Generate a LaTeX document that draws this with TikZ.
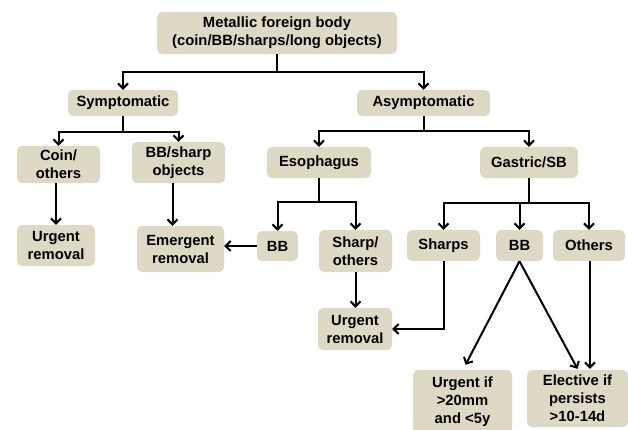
\documentclass[tikz,border=0pt]{standalone}
\usepackage{fontspec}
\setmainfont{Liberation Sans}
\usetikzlibrary{arrows.meta,calc}
\definecolor{boxfill}{RGB}{222,217,196}
\begin{document}
\begin{tikzpicture}[x=1pt,y=-1pt,
 box/.style={fill=boxfill, rounded corners=5pt, inner sep=0pt, align=center, font=\fontsize{14.8}{18}\selectfont\bfseries},
 arr/.style={line width=2pt, -{Straight Barb[length=5pt,width=10pt]}}]
\useasboundingbox (0,0) rectangle (628,429);
\fill[white] (0,0) rectangle (628,429);
\node[box, minimum width=240, minimum height=42] (top) at (277,33) {Metallic foreign body\\(coin/BB/sharps/long objects)};
\node[box, minimum width=110, minimum height=26] (sym) at (123,103) {Symptomatic};
\node[box, minimum width=133, minimum height=26] (asym) at (423.5,103) {Asymptomatic};
\node[box, minimum width=83, minimum height=37] (coin) at (58.5,164.5) {Coin/\\others};
\node[box, minimum width=93, minimum height=41] (bbs) at (178.5,162.5) {BB/sharp\\objects};
\node[box, minimum width=78, minimum height=41] (urgL) at (56,245.5) {Urgent\\removal};
\node[box, minimum width=87, minimum height=46] (emerg) at (180.5,249) {Emergent\\removal};
\node[box, minimum width=104, minimum height=31] (eso) at (319,162.5) {Esophagus};
\node[box, minimum width=98, minimum height=31] (gas) at (529,162.5) {Gastric/SB};
\node[box, minimum width=41, minimum height=30] (bbE) at (277.5,246) {BB};
\node[box, minimum width=73, minimum height=42] (sho) at (355.5,251) {Sharp/\\others};
\node[box, minimum width=73, minimum height=31] (shp) at (443.5,245.5) {Sharps};
\node[box, minimum width=47, minimum height=31] (bbG) at (519.5,245.5) {BB};
\node[box, minimum width=72, minimum height=31] (oth) at (589,245.5) {Others};
\node[box, minimum width=74, minimum height=42] (urgM) at (355,329) {Urgent\\removal};
\node[box, minimum width=99, minimum height=64] (urgIf) at (462.5,402) {Urgent if\\>20mm\\and <5y};
\node[box, minimum width=101, minimum height=57] (elect) at (577.5,398.5) {Elective if\\persists\\>10-14d};
\draw[arr] (top.south) -- ++(0,18) -| (sym.north);
\draw[arr] (top.south) -- ++(0,18) -| (asym.north);
\draw[arr] (sym.south) -- ++(0,16) -| (coin.north);
\draw[arr] (sym.south) -- ++(0,16) -| (bbs.north);
\draw[arr] (asym.south) -- ++(0,15) -| (eso.north);
\draw[arr] (asym.south) -- ++(0,15) -| (gas.north);
\draw[arr] (eso.south) -- ++(0,24) -| (bbE.north);
\draw[arr] (eso.south) -- ++(0,24) -| (sho.north);
\draw[arr] (gas.south) -- ++(0,25) -| (shp.north);
\draw[arr] (gas.south) -- ++(0,25) -| (bbG.north);
\draw[arr] (gas.south) -- ++(0,25) -| (oth.north);
\draw[arr] (urgL.north |- coin.south) -- (urgL.north);
\draw[arr] ([xshift=-6pt]bbs.south) -- ([xshift=-6pt]bbs.south |- emerg.north);
\draw[arr] (bbE.west) -- (bbE.west -| emerg.east);
\draw[arr] (sho.south) -- (sho.south |- urgM.north);
\draw[arr] (shp.south) |- (urgM.east);
\draw[arr] (bbG.south) -- ([shift={(3pt,5pt)}]urgIf.north);
\draw[arr] (bbG.south) -- ([yshift=1pt]elect.north);
\draw[arr] ([xshift=1pt]oth.south) -- ([xshift=1pt,yshift=1pt]oth.south |- elect.north);
\end{tikzpicture}
\end{document}
